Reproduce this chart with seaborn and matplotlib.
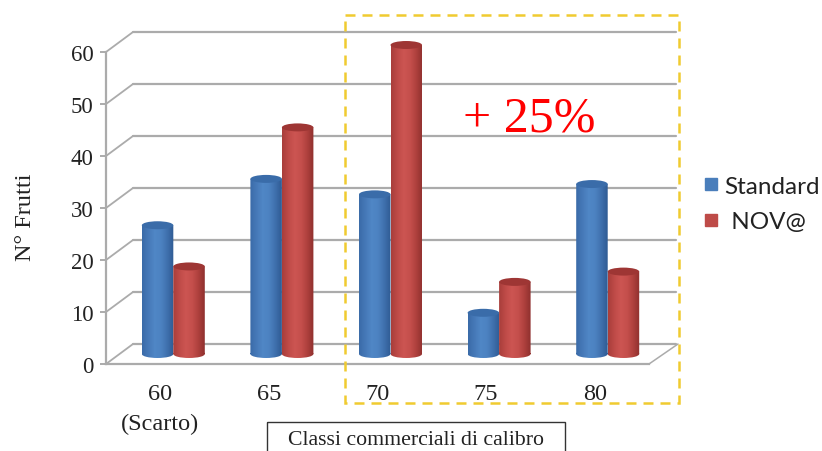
import numpy as np
import pandas as pd
import matplotlib
matplotlib.use("Agg")
import matplotlib.pyplot as plt
import seaborn as sns
from matplotlib.colors import LinearSegmentedColormap
from matplotlib.lines import Line2D
from matplotlib.patches import Ellipse, Rectangle
from matplotlib.path import Path
from matplotlib.transforms import Affine2D

categories = ["60\n(Scarto)", "65", "70", "75", "80"]
standard = [25, 34, 31, 8, 33]
nova = [17, 44, 60, 14, 16]
series_names = ["Standard", "NOV@"]
y_ticks = [0, 10, 20, 30, 40, 50, 60]
SERIF = "Liberation Serif"
GREY = "#ABABAB"

W, H = 822, 452
sns.set_theme(style="white")
plt.rcParams["font.family"] = SERIF
fig = plt.figure(figsize=(W / 100, H / 100), dpi=100)


def box(x0, y0, x1, y1):
    """Axes rectangle from pixel edges measured from the top left."""
    return [x0 / W, 1 - y1 / H, (x1 - x0) / W, (y1 - y0) / H]


# Front plane: the axis lines, ticks and labels
ax = fig.add_axes(box(106, 53, 649, 365))
ax.set_xlim(-0.5, 4.5)
ax.set_ylim(0, 60)
ax.patch.set_alpha(0)
sns.despine(ax=ax)
for side in ("left", "bottom"):
    ax.spines[side].set_color(GREY)
    ax.spines[side].set_linewidth(1.6)
ax.set_yticks(y_ticks)
ax.set_xticks(np.arange(-0.5, 5, 1))
ax.set_xticklabels([])
ax.set_xticks(range(len(categories)), labels=categories, minor=True)
ax.tick_params(axis="x", which="major", length=5, width=1.4, color=GREY)
ax.tick_params(axis="x", which="minor", length=0, pad=14, labelsize=17.5)
ax.tick_params(axis="y", length=4, width=1.4, color=GREY, labelsize=16.5, pad=5,
               left=True)
for label in ax.get_xticklabels(minor=True):
    label.set_linespacing(1.5)
    label.set_color("#222222")
for label in ax.get_yticklabels():
    label.set_color("#222222")
ax.set_ylabel("N° Frutti", fontsize=17.5, color="#222222")
ax.yaxis.set_label_coords(-70 / 543, 0.475)

# Back wall gridlines and the receding edges that join them to the front plane
depth_x, depth_y = 27, 20
back = ax.transData + Affine2D().translate(depth_x, depth_y)
for tick in y_ticks:
    ax.plot([-0.5, 4.5], [tick, tick], color=GREY, lw=1.6, transform=back,
            clip_on=False, zorder=1)
    x0, y0 = ax.transData.transform((-0.5, tick))
    ax.plot([x0, x0 + depth_x], [y0, y0 + depth_y], color=GREY, lw=1.3,
            transform=None, clip_on=False, zorder=1)
xr, yr = ax.transData.transform((4.5, 0))
ax.plot([xr, xr + depth_x + 2], [yr, yr + depth_y], color=GREY, lw=1.1,
        transform=None, clip_on=False, zorder=1)

# Cylinders sit part way into the depth of the plot
bars_ax = fig.add_axes(box(119, 46, 662, 355))
frame = pd.DataFrame({
    "classe": categories * 2,
    "serie": [series_names[0]] * 5 + [series_names[1]] * 5,
    "frutti": standard + nova,
})
palette = {series_names[0]: "#4A7EBB", series_names[1]: "#BE4B48"}
sns.barplot(data=frame, x="classe", y="frutti", hue="serie", hue_order=series_names,
            palette=palette, order=categories, width=0.58, gap=0, legend=False,
            saturation=1, ax=bars_ax)
bars_ax.set_xlim(-0.5, 4.5)
bars_ax.set_ylim(0, 60)
bars_ax.axis("off")

shades = {
    "blue": (["#3A6BA8", "#4679B8", "#5087C6", "#4C82C1", "#3F70AD", "#2F5B93"], "#3A6CA9"),
    "red": (["#A83E3B", "#BF4B48", "#CC5552", "#C54F4C", "#AE403D", "#8F302E"], "#9E3634"),
}
ELLIPSE_H = 1.55


def outline(patch):
    return patch.get_path().transformed(patch.get_patch_transform())


for i, bar in enumerate(list(bars_ax.patches)):
    stops, top_colour = shades["blue" if i < 5 else "red"]
    x, w, h = bar.get_x(), bar.get_width(), bar.get_height()
    bar.set_visible(False)
    zorder = 3 + i % 5 / 10 + (0.05 if i >= 5 else 0)
    cmap = LinearSegmentedColormap.from_list("cyl", stops)
    body = Path.make_compound_path(
        outline(Rectangle((x, 0), w, h)),
        outline(Ellipse((x + w / 2, 0), w, ELLIPSE_H)),
    )
    img = bars_ax.imshow(np.linspace(0, 1, 64)[None, :], cmap=cmap, aspect="auto",
                         extent=(x, x + w, -ELLIPSE_H, h), zorder=zorder)
    img.set_clip_box(fig.bbox)
    img.set_clip_path(body, bars_ax.transData)
    bars_ax.add_patch(Ellipse((x + w / 2, h), w, ELLIPSE_H, facecolor=top_colour,
                              edgecolor="none", zorder=zorder + 0.01, clip_on=False))
bars_ax.set_xlim(-0.5, 4.5)
bars_ax.set_ylim(0, 60)

# Overlay: highlight frame, gain note, axis caption box and legend
overlay = fig.add_axes([0, 0, 1, 1])
overlay.set_xlim(0, W)
overlay.set_ylim(H, 0)
overlay.axis("off")
overlay.add_patch(Rectangle((345, 16), 334, 388, fill=False, edgecolor="#F0CB30",
                            lw=1.8, ls=(0, (4, 2.8))))
overlay.text(529, 119, "+ 25%", color="#FF0000", fontsize=36, ha="center", va="center")
overlay.add_patch(Rectangle((267, 423), 298, 40, fill=False, edgecolor="#333333", lw=1))
overlay.text(416, 441, "Classi commerciali di calibro", fontsize=15.7, ha="center",
             va="center", color="#222222")

handles = [Line2D([], [], ls="none", marker="s", ms=8, color=palette[n]) for n in series_names]
legend = overlay.legend(handles, [series_names[0], " " + series_names[1]],
                        loc="center left", bbox_to_anchor=(699 / W, 1 - 205 / H),
                        frameon=False, handlelength=1, handletextpad=0.05, labelspacing=0.6,
                        borderpad=0, borderaxespad=0,
                        prop={"family": "Lato", "size": 17.5})
for text in legend.get_texts():
    text.set_color("#222222")

fig.savefig("out.png", dpi=100)
